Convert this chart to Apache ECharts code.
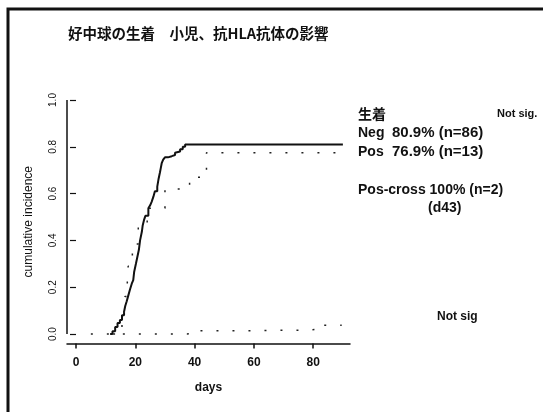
<!DOCTYPE html>
<html>
<head>
<meta charset="utf-8">
<script src="https://cdn.jsdelivr.net/npm/echarts@6/dist/echarts.min.js"></script>
<style>html,body{margin:0;padding:0;background:#fff;}#c{width:543px;height:412px;}</style>
</head>
<body>
<div id="c"></div>
<script>
// ---- data ----
const titleText = '好中球の生着　小児、抗HLA抗体の影響';
const xTicks = [0, 20, 40, 60, 80];
const yTicks = [0, 0.2, 0.4, 0.6, 0.8, 1.0];
const xRange = [-3.04, 92.4];
const yRange = [-0.04, 1.0];

// Neg (solid step curve): [day, cumulative incidence]
const negCurve = [
  [11.5, 0.0], [12.3, 0.012], [13.2, 0.03], [14.0, 0.047], [14.8, 0.06], [15.5, 0.08],
  [16.2, 0.095], [16.6, 0.12], [17.1, 0.14], [17.6, 0.163], [18.2, 0.19], [18.8, 0.215],
  [19.3, 0.23], [19.6, 0.265], [20.2, 0.30], [20.7, 0.33], [21.2, 0.36], [21.6, 0.40],
  [22.2, 0.437], [22.5, 0.465], [23.0, 0.49], [23.4, 0.505], [24.4, 0.537], [25.0, 0.55],
  [25.5, 0.565], [26.1, 0.587], [26.6, 0.61], [27.4, 0.63], [27.8, 0.66], [28.3, 0.69],
  [28.6, 0.71], [28.9, 0.73], [29.4, 0.745], [30.0, 0.755], [31.0, 0.76], [32.3, 0.765],
  [33.4, 0.775], [34.0, 0.78], [35.1, 0.79], [36.0, 0.80], [36.8, 0.81], [90.0, 0.81]
];
// Pos (dotted step curve)
const posCurve = [
  [12.5, 0.0], [15.5, 0.077], [16.2, 0.10], [16.5, 0.16], [17.3, 0.231], [17.6, 0.29],
  [19.0, 0.385], [21.0, 0.462], [24.0, 0.538], [30.0, 0.62], [38.3, 0.67], [44.0, 0.775],
  [90.0, 0.775]
];
// lower dotted curve (Not sig)
const lowCurve = [
  [5.0, 0.0], [37.4, 0.004], [41.0, 0.014], [56.0, 0.017], [78.0, 0.02], [81.5, 0.038],
  [89.6, 0.038]
];

const legendTitle = '生着';
const legendSig = 'Not sig.';
const legendRows = [
  ['Neg', '80.9% (n=86)'],
  ['Pos', '76.9% (n=13)']
];
const crossText = 'Pos-cross 100% (n=2)';
const crossDay = '(d43)';
const lowSig = 'Not sig';

const chart = echarts.init(document.getElementById('c'), null, {renderer: 'canvas'});
const F = '"Liberation Sans", Arial, Helvetica, sans-serif';
const txt = (x, y, s, size, weight) => ({
  type: 'text', left: x, top: y,
  style: {text: s, fill: '#111', font: (weight || 'bold') + ' ' + size + 'px ' + F}
});

chart.setOption({
  animation: false,
  backgroundColor: '#fff',
  grid: {left: 67, right: 193, top: 100, bottom: 68.6, containLabel: false},
  xAxis: {
    type: 'value', min: xRange[0], max: xRange[1],
    name: 'days', nameLocation: 'middle', nameGap: 38,
    nameTextStyle: {color: '#111', fontSize: 12, fontWeight: 'bold', fontFamily: F},
    axisLine: {show: true, onZero: false, lineStyle: {color: '#111', width: 1.5}},
    axisTick: {show: true, inside: false, length: 5, customValues: xTicks, lineStyle: {color: '#111', width: 1.5}},
    axisLabel: {customValues: xTicks, color: '#111', fontSize: 12, fontWeight: 'bold', fontFamily: F, margin: 13},
    splitLine: {show: false}
  },
  yAxis: {
    type: 'value', min: yRange[0], max: yRange[1],
    name: 'cumulative incidence', nameLocation: 'middle', nameGap: 32, nameRotate: 90,
    nameTextStyle: {color: '#111', fontSize: 12, fontFamily: F},
    axisLine: {show: false},
    axisTick: {show: true, inside: false, length: 6, customValues: yTicks, lineStyle: {color: '#111', width: 1.2}},
    axisLabel: {customValues: yTicks, rotate: 90, color: '#111', fontSize: 10, fontFamily: F, margin: 9,
      formatter: v => v.toFixed(1)},
    splitLine: {show: false}
  },
  series: [
    {
      type: 'line', step: 'end', data: negCurve, showSymbol: false, symbol: 'none',
      lineStyle: {color: '#111', width: 2},
      markLine: {
        silent: true, symbol: 'none', label: {show: false},
        lineStyle: {color: '#111', width: 1.5, type: 'solid'},
        data: [[{coord: [xRange[0], yTicks[0]]}, {coord: [xRange[0], yTicks[yTicks.length - 1]]}]]
      }
    },
    {
      type: 'line', step: 'end', data: posCurve, showSymbol: false, symbol: 'none',
      lineStyle: {color: '#222', width: 1.5, type: [2, 14]}
    },
    {
      type: 'line', step: 'end', data: lowCurve, showSymbol: false, symbol: 'none',
      lineStyle: {color: '#222', width: 1.5, type: [2, 14]}
    }
  ],
  graphic: [
    {type: 'rect', shape: {x: 8, y: 9, width: 600, height: 500},
     style: {fill: 'none', stroke: '#111', lineWidth: 3}},
    {type: 'text', left: 68, top: 26,
     style: {text: titleText, fill: '#111', font: 'bold 14.5px "Noto Sans CJK JP", sans-serif'}},
    {type: 'text', left: 358, top: 107,
     style: {text: legendTitle, fill: '#111', font: 'bold 14px "Noto Sans CJK JP", sans-serif'}},
    txt(497, 108, legendSig, 11),
    txt(358, 126, legendRows[0][0], 14), txt(392, 125, legendRows[0][1], 15),
    txt(358, 145, legendRows[1][0], 14), txt(392, 144, legendRows[1][1], 15),
    txt(358, 183, crossText, 14),
    txt(428, 201, crossDay, 14),
    txt(437, 311, lowSig, 12)
  ]
});
</script>
</body>
</html>
